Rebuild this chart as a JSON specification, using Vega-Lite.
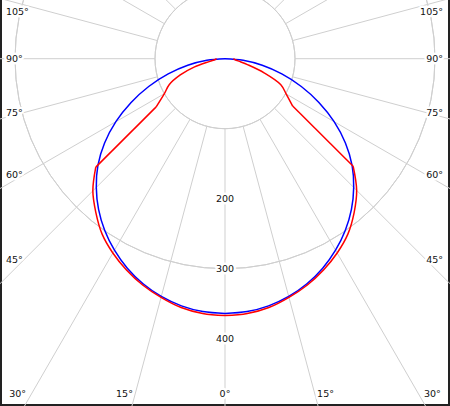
{
  "$schema": "https://vega.github.io/schema/vega-lite/v6.json",
  "width": 450,
  "height": 408,
  "autosize": {"type": "none"},
  "padding": {"left": 0, "top": -2, "right": 0, "bottom": 0},
  "background": "white",
  "config": {
    "view": {"stroke": "#222222", "strokeWidth": 4},
    "text": {"font": "DejaVu Sans", "fontSize": 9.5}
  },
  "datasets": {
    "rings": [{"r": 100}, {"r": 200}, {"r": 300}, {"r": 400}, {"r": 500}],
    "spokes": [{"a": 0}, {"a": 15}, {"a": 30}, {"a": 45}, {"a": 60}, {"a": 75}, {"a": 90}, {"a": 105}, {"a": 120}, {"a": 135}, {"a": 150}, {"a": 165}, {"a": 180}, {"a": 195}, {"a": 210}, {"a": 225}, {"a": 240}, {"a": 255}, {"a": 270}, {"a": 285}, {"a": 300}, {"a": 315}, {"a": 330}, {"a": 345}],
    "angleLabels": [
      {"a": -105, "t": "105°"}, {"a": -90, "t": "90°"}, {"a": -75, "t": "75°"}, {"a": -60, "t": "60°"}, {"a": -45, "t": "45°"}, {"a": -30, "t": "30°"}, {"a": -15, "t": "15°"}, {"a": 0, "t": "0°"},
      {"a": 15, "t": "15°"}, {"a": 30, "t": "30°"}, {"a": 45, "t": "45°"}, {"a": 60, "t": "60°"}, {"a": 75, "t": "75°"}, {"a": 90, "t": "90°"}, {"a": 105, "t": "105°"}
    ],
    "ringLabels": [{"v": 200, "t": "200"}, {"v": 300, "t": "300"}, {"v": 400, "t": "400"}],
    "curves": [
      {"s": "blue", "side": -1, "a": 0, "v": 364}, {"s": "blue", "side": -1, "a": 5, "v": 362.6}, {"s": "blue", "side": -1, "a": 10, "v": 358.5}, {"s": "blue", "side": -1, "a": 15, "v": 351.6}, {"s": "blue", "side": -1, "a": 20, "v": 342.2}, {"s": "blue", "side": -1, "a": 25, "v": 330.2}, {"s": "blue", "side": -1, "a": 30, "v": 315.8}, {"s": "blue", "side": -1, "a": 35, "v": 299.5}, {"s": "blue", "side": -1, "a": 40, "v": 281}, {"s": "blue", "side": -1, "a": 45, "v": 260}, {"s": "blue", "side": -1, "a": 50, "v": 237}, {"s": "blue", "side": -1, "a": 55, "v": 210}, {"s": "blue", "side": -1, "a": 60, "v": 180}, {"s": "blue", "side": -1, "a": 65, "v": 148}, {"s": "blue", "side": -1, "a": 70, "v": 116}, {"s": "blue", "side": -1, "a": 75, "v": 84}, {"s": "blue", "side": -1, "a": 80, "v": 54}, {"s": "blue", "side": -1, "a": 85, "v": 26}, {"s": "blue", "side": -1, "a": 90, "v": 0},
      {"s": "blue", "side": 1, "a": 0, "v": 364}, {"s": "blue", "side": 1, "a": 5, "v": 362.6}, {"s": "blue", "side": 1, "a": 10, "v": 358.5}, {"s": "blue", "side": 1, "a": 15, "v": 351.6}, {"s": "blue", "side": 1, "a": 20, "v": 342.2}, {"s": "blue", "side": 1, "a": 25, "v": 330.2}, {"s": "blue", "side": 1, "a": 30, "v": 315.8}, {"s": "blue", "side": 1, "a": 35, "v": 299.5}, {"s": "blue", "side": 1, "a": 40, "v": 281}, {"s": "blue", "side": 1, "a": 45, "v": 260}, {"s": "blue", "side": 1, "a": 50, "v": 237}, {"s": "blue", "side": 1, "a": 55, "v": 210}, {"s": "blue", "side": 1, "a": 60, "v": 180}, {"s": "blue", "side": 1, "a": 65, "v": 148}, {"s": "blue", "side": 1, "a": 70, "v": 116}, {"s": "blue", "side": 1, "a": 75, "v": 84}, {"s": "blue", "side": 1, "a": 80, "v": 54}, {"s": "blue", "side": 1, "a": 85, "v": 26}, {"s": "blue", "side": 1, "a": 90, "v": 0},
      {"s": "red", "side": -1, "a": 0, "v": 367}, {"s": "red", "side": -1, "a": 5, "v": 365.5}, {"s": "red", "side": -1, "a": 10, "v": 361}, {"s": "red", "side": -1, "a": 15, "v": 353}, {"s": "red", "side": -1, "a": 20, "v": 344}, {"s": "red", "side": -1, "a": 25, "v": 333}, {"s": "red", "side": -1, "a": 30, "v": 320.5}, {"s": "red", "side": -1, "a": 35, "v": 306}, {"s": "red", "side": -1, "a": 40, "v": 287}, {"s": "red", "side": -1, "a": 45, "v": 267}, {"s": "red", "side": -1, "a": 50, "v": 241}, {"s": "red", "side": -1, "a": 55, "v": 120}, {"s": "red", "side": -1, "a": 60, "v": 100}, {"s": "red", "side": -1, "a": 65, "v": 88}, {"s": "red", "side": -1, "a": 70, "v": 68}, {"s": "red", "side": -1, "a": 75, "v": 45}, {"s": "red", "side": -1, "a": 80, "v": 22}, {"s": "red", "side": -1, "a": 85, "v": 14}, {"s": "red", "side": -1, "a": 90, "v": 12},
      {"s": "red", "side": 1, "a": 0, "v": 367}, {"s": "red", "side": 1, "a": 5, "v": 365.5}, {"s": "red", "side": 1, "a": 10, "v": 361}, {"s": "red", "side": 1, "a": 15, "v": 353}, {"s": "red", "side": 1, "a": 20, "v": 344}, {"s": "red", "side": 1, "a": 25, "v": 333}, {"s": "red", "side": 1, "a": 30, "v": 320.5}, {"s": "red", "side": 1, "a": 35, "v": 306}, {"s": "red", "side": 1, "a": 40, "v": 287}, {"s": "red", "side": 1, "a": 45, "v": 266}, {"s": "red", "side": 1, "a": 50, "v": 239}, {"s": "red", "side": 1, "a": 55, "v": 118}, {"s": "red", "side": 1, "a": 60, "v": 101}, {"s": "red", "side": 1, "a": 65, "v": 88}, {"s": "red", "side": 1, "a": 70, "v": 60}, {"s": "red", "side": 1, "a": 75, "v": 34}, {"s": "red", "side": 1, "a": 80, "v": 20}, {"s": "red", "side": 1, "a": 85, "v": 14}, {"s": "red", "side": 1, "a": 90, "v": 12}
    ]
  },
  "encoding": {
    "x": {"field": "px", "type": "quantitative", "scale": {"domain": [-321.43, 321.43], "nice": false, "zero": false}, "axis": null},
    "y": {"field": "py", "type": "quantitative", "scale": {"domain": [-86.71, 496.14], "nice": false, "zero": false, "reverse": true}, "axis": null}
  },
  "layer": [
    {
      "data": {"name": "rings"},
      "transform": [{"calculate": "0", "as": "px"}, {"calculate": "0", "as": "py"}],
      "mark": {"type": "arc", "theta": 0, "theta2": 6.2832, "filled": false, "stroke": "#cfcfcf", "strokeWidth": 1, "clip": true},
      "encoding": {
        "radius": {"field": "r", "type": "quantitative", "scale": {"type": "linear", "domain": [0, 500], "range": [0, 350], "zero": true}}
      }
    },
    {
      "data": {"name": "spokes"},
      "transform": [
        {"calculate": "datum.a*PI/180", "as": "rad"},
        {"calculate": "100*sin(datum.rad)", "as": "px"},
        {"calculate": "100*cos(datum.rad)", "as": "py"},
        {"calculate": "800*sin(datum.rad)", "as": "px2"},
        {"calculate": "800*cos(datum.rad)", "as": "py2"}
      ],
      "mark": {"type": "rule", "stroke": "#cfcfcf", "strokeWidth": 1, "clip": true},
      "encoding": {"x2": {"field": "px2"}, "y2": {"field": "py2"}}
    },
    {
      "data": {"name": "curves"},
      "transform": [
        {"calculate": "datum.a*PI/180", "as": "rad"},
        {"calculate": "datum.side*datum.v*sin(datum.rad)", "as": "px"},
        {"calculate": "datum.v*cos(datum.rad)", "as": "py"}
      ],
      "encoding": {
        "color": {"field": "s", "type": "nominal", "scale": {"domain": ["blue", "red"], "range": ["#0000ff", "#ff0000"]}, "legend": null},
        "detail": [{"field": "s"}, {"field": "side"}],
        "order": {"field": "a", "type": "quantitative"}
      },
      "layer": [
        {
          "transform": [{"filter": "datum.s == 'blue'"}],
          "mark": {"type": "line", "strokeWidth": 1.5, "interpolate": "catmull-rom", "clip": true}
        },
        {
          "transform": [{"filter": "datum.s == 'red' && datum.a <= 50"}],
          "mark": {"type": "line", "strokeWidth": 1.5, "interpolate": "catmull-rom", "clip": true}
        },
        {
          "transform": [{"filter": "datum.s == 'red' && datum.a >= 50 && datum.a <= 55"}],
          "mark": {"type": "line", "strokeWidth": 1.5, "interpolate": "linear", "clip": true}
        },
        {
          "transform": [{"filter": "datum.s == 'red' && datum.a >= 55"}],
          "mark": {"type": "line", "strokeWidth": 1.5, "interpolate": "catmull-rom", "clip": true}
        }
      ]
    },
    {
      "data": {"name": "angleLabels"},
      "transform": [
        {"filter": "datum.a <= -45"},
        {"calculate": "-312.9", "as": "px"},
        {"calculate": "max(287.1/tan(abs(datum.a)*PI/180), -67.1)", "as": "py"}
      ],
      "encoding": {"text": {"field": "t", "type": "nominal"}},
      "layer": [
        {"mark": {"type": "text", "align": "left", "baseline": "middle", "fill": "white", "stroke": "white", "strokeWidth": 5, "strokeJoin": "round"}},
        {"mark": {"type": "text", "align": "left", "baseline": "middle", "fill": "#111111"}}
      ]
    },
    {
      "data": {"name": "angleLabels"},
      "transform": [
        {"filter": "datum.a >= 45"},
        {"calculate": "311.4", "as": "px"},
        {"calculate": "max(287.1/tan(abs(datum.a)*PI/180), -67.1)", "as": "py"}
      ],
      "encoding": {"text": {"field": "t", "type": "nominal"}},
      "layer": [
        {"mark": {"type": "text", "align": "right", "baseline": "middle", "fill": "white", "stroke": "white", "strokeWidth": 5, "strokeJoin": "round"}},
        {"mark": {"type": "text", "align": "right", "baseline": "middle", "fill": "#111111"}}
      ]
    },
    {
      "data": {"name": "angleLabels"},
      "transform": [
        {"filter": "abs(datum.a) <= 30"},
        {"calculate": "(datum.a < 0 ? -1 : (datum.a > 0 ? 1 : 0)) * (493.3*tan(abs(datum.a)*PI/180) + 11.4)", "as": "px"},
        {"calculate": "479.7", "as": "py"}
      ],
      "encoding": {"text": {"field": "t", "type": "nominal"}},
      "layer": [
        {"mark": {"type": "text", "align": "center", "baseline": "middle", "fill": "white", "stroke": "white", "strokeWidth": 5, "strokeJoin": "round"}},
        {"mark": {"type": "text", "align": "center", "baseline": "middle", "fill": "#111111"}}
      ]
    },
    {
      "data": {"name": "ringLabels"},
      "transform": [
        {"calculate": "0", "as": "px"},
        {"calculate": "datum.v", "as": "py"}
      ],
      "encoding": {"text": {"field": "t", "type": "nominal"}},
      "layer": [
        {"mark": {"type": "text", "align": "center", "baseline": "middle", "fill": "white", "stroke": "white", "strokeWidth": 5, "strokeJoin": "round"}},
        {"mark": {"type": "text", "align": "center", "baseline": "middle", "fill": "#111111"}}
      ]
    }
  ]
}
